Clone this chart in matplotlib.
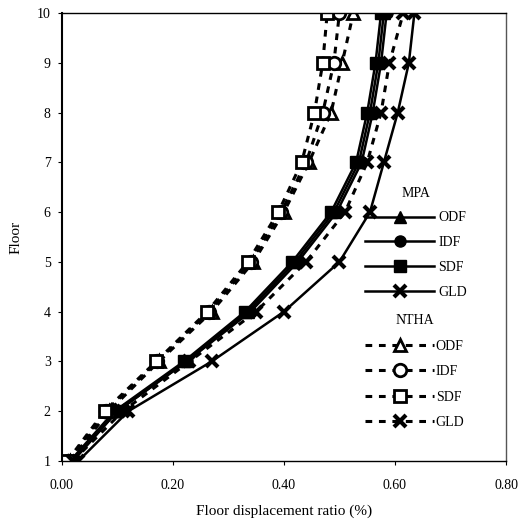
import numpy as np
import matplotlib.pyplot as plt
from matplotlib.legend import Legend

plt.rcParams['font.family'] = ['Liberation Serif', 'DejaVu Serif']

floors = [1, 2, 3, 4, 5, 6, 7, 8, 9, 10]

# MPA (solid lines)
mpa_odf = [0.020, 0.100, 0.225, 0.335, 0.420, 0.490, 0.535, 0.555, 0.570, 0.580]
mpa_idf = [0.020, 0.100, 0.225, 0.340, 0.425, 0.495, 0.540, 0.560, 0.575, 0.585]
mpa_sdf = [0.015, 0.095, 0.220, 0.330, 0.415, 0.485, 0.530, 0.550, 0.565, 0.575]
mpa_gld = [0.030, 0.120, 0.270, 0.400, 0.500, 0.555, 0.580, 0.605, 0.625, 0.635]

# NTHA (dashed lines)
ntha_odf = [0.015, 0.085, 0.175, 0.270, 0.345, 0.400, 0.445, 0.485, 0.505, 0.525]
ntha_idf = [0.012, 0.080, 0.172, 0.265, 0.340, 0.395, 0.440, 0.470, 0.490, 0.500]
ntha_sdf = [0.010, 0.077, 0.170, 0.262, 0.335, 0.390, 0.432, 0.455, 0.470, 0.478]
ntha_gld = [0.020, 0.110, 0.230, 0.350, 0.440, 0.510, 0.550, 0.575, 0.590, 0.615]

labels = ['ODF', 'IDF', 'SDF', 'GLD']
xticks = [0.0, 0.2, 0.4, 0.6, 0.8]

fig = plt.figure(figsize=(5.19, 5.25), dpi=100)
ax = fig.add_axes([0.119, 0.122, 0.856, 0.853])

dash = (0, (2.2, 2.2))
mpa_h = []
for vals, m in zip([mpa_odf, mpa_idf, mpa_sdf, mpa_gld], ['^', 'o', 's', 'x']):
    if m == 'x':
        h, = ax.plot(vals, floors, color='black', lw=1.8, marker='x',
                     ms=9, mew=3)
    else:
        h, = ax.plot(vals, floors, color='black', lw=1.8, marker=m,
                     ms=8, mfc='black', mec='black')
    mpa_h.append(h)

ntha_h = []
for vals, m in zip([ntha_odf, ntha_idf, ntha_sdf, ntha_gld], ['^', 'o', 's', 'x']):
    if m == 'x':
        h, = ax.plot(vals, floors, color='black', lw=2.2, ls=dash, marker='x',
                     ms=9, mew=3)
    else:
        h, = ax.plot(vals, floors, color='black', lw=2.2, ls=dash, marker=m,
                     ms=9, mfc='white', mec='black', mew=2)
    ntha_h.append(h)

ax.set_xlim(0, 0.8)
ax.set_ylim(1, 10)
ax.set_xticks(xticks)
ax.set_xticklabels(['%.2f' % v for v in xticks])
ax.set_yticks(floors)
ax.tick_params(labelsize=10, length=3, direction='out')
ax.tick_params(axis='x', pad=10)
ax.tick_params(axis='y', pad=5)
for s in ax.spines.values():
    s.set_linewidth(1.0)
ax.spines['left'].set_linewidth(1.5)
ax.spines['right'].set_color('#555555')

ax.set_xlabel('Floor displacement ratio (%)', fontsize=11, labelpad=9)
ax.set_ylabel('Floor', fontsize=11, labelpad=10)

leg1 = Legend(ax, mpa_h, labels, title='MPA', frameon=False, fontsize=10,
              title_fontsize=10, handlelength=5.0, handletextpad=0.3,
              labelspacing=0.85, loc='upper left',
              bbox_to_anchor=(0.67, 0.625), borderaxespad=0)
ax.add_artist(leg1)
leg2 = Legend(ax, ntha_h, labels, title='NTHA', frameon=False, fontsize=10,
              title_fontsize=10, handlelength=5.0, handletextpad=0.1,
              labelspacing=0.9, loc='upper left',
              bbox_to_anchor=(0.67, 0.34), borderaxespad=0)
ax.add_artist(leg2)

fig.savefig('out.png', dpi=100)
